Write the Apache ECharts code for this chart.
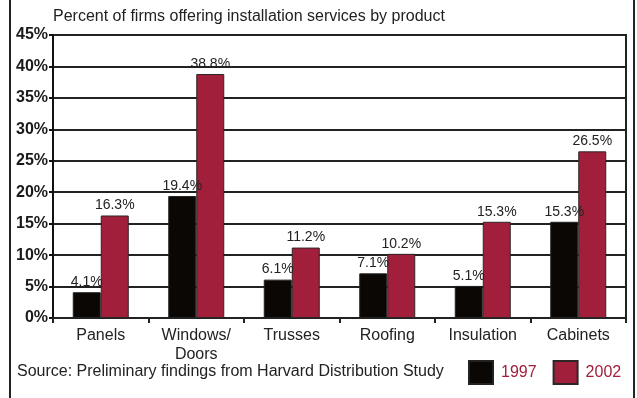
<!DOCTYPE html>
<html>
<head>
<meta charset="utf-8">
<script src="https://cdn.jsdelivr.net/npm/echarts@6/dist/echarts.min.js"></script>
<style>html,body{margin:0;padding:0;background:#fff}#c{width:637px;height:398px}</style>
</head>
<body>
<div id="c"></div>
<script>
const categories = ['Panels', 'Windows/\nDoors', 'Trusses', 'Roofing', 'Insulation', 'Cabinets'];
const values1997 = [4.1, 19.4, 6.1, 7.1, 5.1, 15.3];
const values2002 = [16.3, 38.8, 11.2, 10.2, 15.3, 26.5];
const seriesNames = ['1997', '2002'];
const titleText = 'Percent of firms offering installation services by product';
const sourceText = 'Source: Preliminary findings from Harvard Distribution Study';

const RED = '#a11f3b';
const FONT = '"Liberation Sans", Arial, sans-serif';
const chart = echarts.init(document.getElementById('c'), null, {renderer: 'canvas'});
const labelStyle = {show: true, position: 'top', distance: 3, formatter: p => p.value.toFixed(1) + '%', fontFamily: FONT, fontSize: 14, color: '#222', letterSpacing: -0.6};
chart.setOption({
  animation: false,
  textStyle: {fontFamily: FONT},
  title: {text: titleText, left: 48, top: 4, textStyle: {fontSize: 16, fontWeight: 'normal', color: '#222', fontFamily: FONT}},
  legend: {
    data: seriesNames, left: 463, top: 355, itemWidth: 24, itemHeight: 23, itemGap: 16,
    icon: 'rect',
    textStyle: {fontSize: 16, color: RED, fontFamily: FONT, padding: [0, 0, 0, 3]}
  },
  grid: {left: 53, right: 11, top: 35, bottom: 80, show: true, borderColor: '#222', borderWidth: 2, containLabel: false},
  xAxis: {
    type: 'category', data: categories,
    axisLine: {show: true, lineStyle: {color: '#222', width: 2}},
    axisTick: {show: true, length: 5, lineStyle: {color: '#222', width: 2}},
    axisLabel: {fontSize: 16, color: '#222', margin: 8, lineHeight: 19, fontFamily: FONT, interval: 0}
  },
  yAxis: {
    type: 'value', min: 0, max: 45, interval: 5,
    axisLine: {show: true, lineStyle: {color: '#111', width: 2}},
    axisTick: {show: true, length: 4, lineStyle: {color: '#111', width: 2}},
    axisLabel: {formatter: '{value}%', fontSize: 16, fontWeight: 'bold', color: '#1a1a1a', margin: 5, fontFamily: FONT},
    splitLine: {show: true, lineStyle: {color: '#222', width: 2}}
  },
  series: [
    {name: seriesNames[0], type: 'bar', data: values1997, barWidth: 28, barGap: '0%',
     itemStyle: {color: '#0b0705', borderColor: '#222', borderWidth: 1}, label: labelStyle},
    {name: seriesNames[1], type: 'bar', data: values2002, barWidth: 28,
     itemStyle: {color: RED, borderColor: '#2e2626', borderWidth: 1}, label: labelStyle}
  ],
  graphic: [
    {type: 'line', shape: {x1: 10, y1: 0, x2: 10, y2: 398}, style: {stroke: '#222', lineWidth: 2}},
    {type: 'line', shape: {x1: 634, y1: 0, x2: 634, y2: 398}, style: {stroke: '#222', lineWidth: 2}},
    {type: 'text', left: 17, top: 364, style: {text: sourceText, fontSize: 16, fill: '#222', fontFamily: FONT}}
  ]
});
</script>
</body>
</html>
